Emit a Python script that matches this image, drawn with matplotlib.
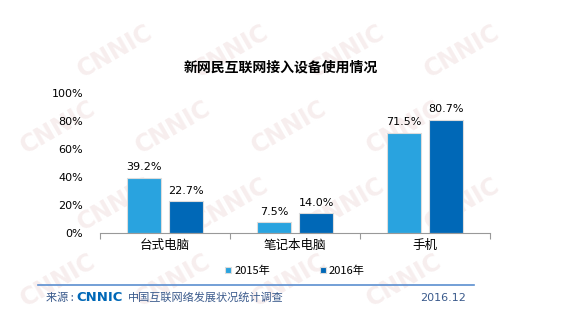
import matplotlib.pyplot as plt
import numpy as np

plt.rcParams['font.family'] = ['Noto Sans CJK SC', 'DejaVu Sans']

categories = ['台式电脑', '笔记本电脑', '手机']
series_names = ['2015年', '2016年']
values_2015 = [39.2, 7.5, 71.5]
values_2016 = [22.7, 14.0, 80.7]
yticks = [0, 20, 40, 60, 80, 100]
colors = ['#29a3df', '#0068b7']

fig = plt.figure(figsize=(5.78, 3.19), dpi=100)
fig.patch.set_facecolor('white')

# faint watermark in a background axes
bg = fig.add_axes([0, 0, 1, 1], zorder=-5)
bg.axis('off')
bg.set_xlim(0, 1)
bg.set_ylim(0, 1)
for row, wy in enumerate([0.12, 0.36, 0.60, 0.84]):
    off = 0.1 if row % 2 else 0.0
    for wx in np.arange(0.1, 0.9, 0.2):
        bg.text(wx + off, wy, 'CNNIC', fontsize=17, fontweight='bold',
                color='#f7eeee', rotation=30, ha='center', va='center', family='DejaVu Sans')

ax = fig.add_axes([0.173, 0.2696, 0.675, 0.439], zorder=1)
ax.set_facecolor('none')

x = np.arange(len(categories))
w = 0.26
b1 = ax.bar(x - 0.163, values_2015, w, color=colors[0], edgecolor='#dcdcdc', linewidth=0.8, label=series_names[0])
b2 = ax.bar(x + 0.163, values_2016, w, color=colors[1], edgecolor='#dcdcdc', linewidth=0.8, label=series_names[1])

for bars, vals in ((b1, values_2015), (b2, values_2016)):
    for rect, v in zip(bars, vals):
        ax.text(rect.get_x() + rect.get_width() / 2, v + 4, f'{v:.1f}%',
                ha='center', va='bottom', fontsize=8, family='DejaVu Sans')

ax.set_xlim(-0.5, 2.5)
ax.set_ylim(0, 100)
ax.set_yticks(yticks)
ax.set_yticklabels([f'{t}%' for t in yticks], fontsize=8, family='DejaVu Sans')
ax.tick_params(axis='y', length=0, pad=12)
ax.set_xticks([-0.5, 0.5, 1.5, 2.5], minor=False)
ax.set_xticklabels([])
ax.set_xticks(x, minor=True)
ax.set_xticklabels(categories, minor=True, fontsize=9)
ax.tick_params(axis='x', which='major', length=4, color='#999999', direction='out')
ax.tick_params(axis='x', which='minor', length=0, pad=4)
for s in ['left', 'right', 'top']:
    ax.spines[s].set_visible(False)
ax.spines['bottom'].set_color('#999999')

fig.text(0.485, 0.787, '新网民互联网接入设备使用情况', ha='center', va='center',
         fontsize=10, fontweight='bold')

leg = ax.legend(loc='upper center', bbox_to_anchor=(0.5, -0.16), ncol=2, frameon=False,
                fontsize=8, handlelength=0.5, handleheight=0.5, columnspacing=4.5,
                handletextpad=0.3)

# footer
fig.add_artist(plt.Line2D([0.066, 0.82], [0.107, 0.107], color='#5b8fd0', linewidth=1.2))
fig.text(0.08, 0.066, '来源 :', fontsize=8, color='#3a5a8c', va='center')
fig.text(0.132, 0.066, 'CNNIC', fontsize=9.5, fontweight='bold', color='#0068b7',
         va='center', family='DejaVu Sans')
fig.text(0.222, 0.066, '中国互联网络发展状况统计调查', fontsize=8, color='#3a5a8c', va='center')
fig.text(0.807, 0.066, '2016.12', fontsize=8, color='#3a5a8c', va='center', ha='right',
         family='DejaVu Sans')

fig.savefig('out.png', dpi=100)
